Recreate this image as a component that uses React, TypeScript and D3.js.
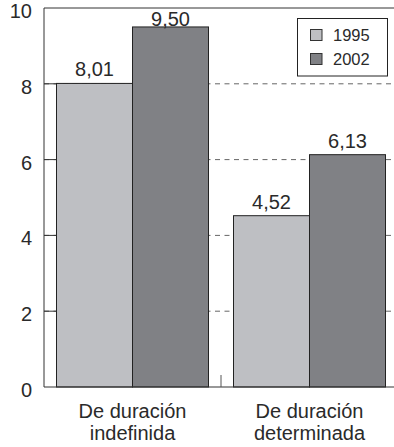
import React from "react";
import * as d3 from "d3";

const categories = ["De duración|indefinida", "De duración|determinada"];
const seriesNames = ["1995", "2002"];
const values1995 = [8.01, 4.52];
const values2002 = [9.5, 6.13];
const yTicks = [0, 2, 4, 6, 8, 10];
const gridTicks = [2, 4, 6, 8];
const colors = ["#bebfc3", "#808185"];

const W = 394;
const H = 447;
const left = 44;
const right = 398;
const top = 8;
const bottom = 387;
const FONT = "'Liberation Sans', Arial, sans-serif";

export default function App() {
  const y = d3.scaleLinear().domain([0, 10]).range([bottom, top]);
  const pIn = 25 / 177;
  const x0 = d3.scaleBand<string>().domain(categories).range([left, right]).paddingInner(pIn).paddingOuter(pIn / 2);
  const x1 = d3.scaleBand<string>().domain(seriesNames).range([0, x0.bandwidth()]);
  const series = [values1995, values2002];
  const fmt = (v: number) => v.toFixed(2).replace(".", ",");
  const midTick = (x0(categories[1]) as number) - (x0.step() * pIn) / 2;

  return (
    <svg width={W} height={H} style={{ position: "absolute", left: 0, top: 0 }} fontFamily={FONT}>
      {/* dashed gridlines */}
      {gridTicks.map((t) => (
        <line key={"g" + t} x1={left} x2={W} y1={y(t)} y2={y(t)} stroke="#666" strokeWidth={1} strokeDasharray="5,4.5" />
      ))}
      {/* left solid ticks */}
      {gridTicks.map((t) => (
        <line key={"t" + t} x1={left} x2={(x0(categories[0]) as number)} y1={y(t)} y2={y(t)} stroke="#333" strokeWidth={1} />
      ))}
      {/* bars */}
      {categories.map((c, ci) =>
        seriesNames.map((s, si) => {
          const v = series[si][ci];
          const bx = (x0(c) as number) + (x1(s) as number);
          return (
            <rect key={c + s} x={bx} y={y(v)} width={x1.bandwidth()} height={bottom - y(v)} fill={colors[si]} stroke="#222" strokeWidth={1} />
          );
        })
      )}
      {/* value labels */}
      {categories.map((c, ci) =>
        seriesNames.map((s, si) => {
          const v = series[si][ci];
          const cx = (x0(c) as number) + (x1(s) as number) + x1.bandwidth() / 2;
          const ly = Math.max(y(v) - 7, y(10) + 18);
          return (
            <text key={"l" + c + s} x={cx} y={ly} textAnchor="middle" fontSize={20} fill="#2a2a2a">
              {fmt(v)}
            </text>
          );
        })
      )}
      {/* axes */}
      <line x1={left} x2={left} y1={top} y2={bottom} stroke="#333" strokeWidth={1} />
      <line x1={left} x2={W} y1={top} y2={top} stroke="#333" strokeWidth={1} />
      <line x1={left} x2={W} y1={bottom} y2={bottom} stroke="#333" strokeWidth={1.2} />
      <line x1={midTick} x2={midTick} y1={bottom - 12} y2={bottom} stroke="#555" strokeWidth={1} />
      {yTicks.map((t) => (
        <text key={"yl" + t} x={32} y={y(t) + 10} textAnchor="end" fontSize={20} fill="#2a2a2a">
          {t}
        </text>
      ))}
      {categories.map((c) => {
        const cx = (x0(c) as number) + x0.bandwidth() / 2;
        const lines = c.split("|");
        return (
          <text key={"c" + c} x={cx} textAnchor="middle" fontSize={20} fill="#2a2a2a">
            {lines.map((ln, i) => (
              <tspan key={i} x={cx} y={418 + i * 22}>
                {ln}
              </tspan>
            ))}
          </text>
        );
      })}
      {/* legend */}
      <rect x={297.5} y={18.5} width={90} height={57.5} fill="#fff" stroke="#222" strokeWidth={1} />
      {seriesNames.map((s, i) => (
        <g key={"lg" + s}>
          <rect x={310.5} y={29.5 + i * 24} width={11.5} height={11} fill={colors[i]} stroke="#333" strokeWidth={1} />
          <text x={333} y={40.5 + i * 24} fontSize={16.5} fill="#2a2a2a">
            {s}
          </text>
        </g>
      ))}
    </svg>
  );
}
